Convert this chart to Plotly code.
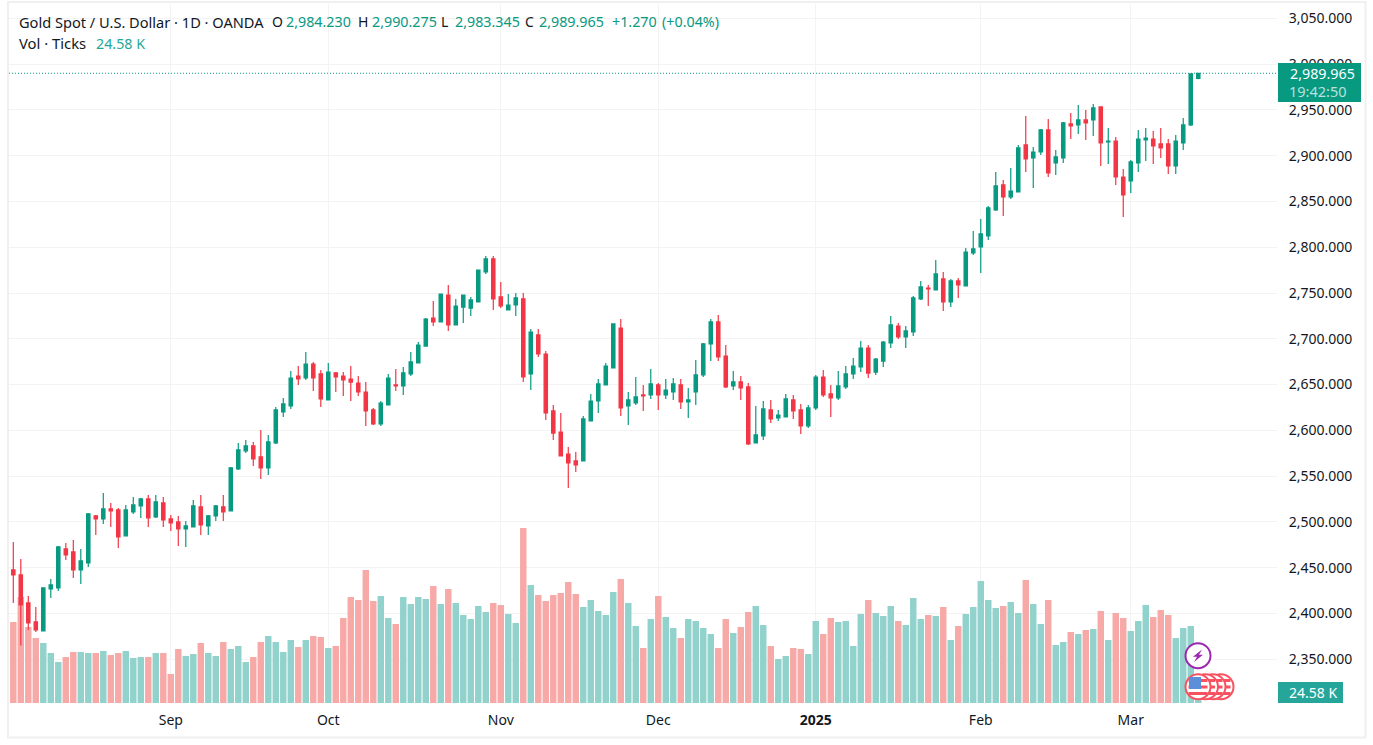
import pandas as pd
import plotly.graph_objects as go

holidays = ['2024-12-25', '2025-01-01']
dates = [d.strftime('%Y-%m-%d') for d in pd.bdate_range('2024-08-02', '2025-03-14')]
dates = [d for d in dates if d not in holidays]

open_ = [2447.6,2442.2,2411.6,2390.8,2381.0,2426.9,2428.0,2470.6,2467.3,2447.6,
         2455.3,2506.6,2503.3,2514.2,2513.1,2484.8,2511.0,2517.5,2525.2,2505.5,
         2520.8,2503.3,2500.0,2492.4,2494.6,2516.4,2495.7,2506.6,2516.4,2512.0,
         2557.9,2577.6,2583.0,2571.0,2559.0,2586.3,2620.2,2626.6,2659.4,2657.2,
         2672.5,2661.6,2633.2,2662.7,2659.4,2656.1,2651.7,2641.9,2622.3,2607.0,
         2627.7,2649.6,2648.5,2661.6,2673.6,2692.1,2722.7,2718.4,2747.8,2715.1,
         2734.7,2733.6,2740.2,2773.0,2787.2,2745.7,2731.5,2736.9,2743.5,2661.6,
         2704.2,2683.4,2621.2,2598.2,2574.2,2566.6,2566.6,2610.3,2632.1,2649.6,
         2668.1,2711.8,2626.6,2629.9,2638.7,2638.7,2649.6,2638.7,2641.9,2649.6,
         2631.0,2641.9,2660.5,2694.4,2718.4,2681.2,2648.5,2652.9,2647.4,2586.2,
         2593.9,2622.3,2613.5,2614.6,2633.2,2622.3,2604.8,2624.5,2658.3,2639.8,
         2635.4,2647.4,2661.6,2669.2,2689.9,2663.7,2675.7,2695.5,2714.0,2702.0,
         2707.5,2743.5,2755.5,2753.3,2765.4,2740.2,2763.2,2757.7,2793.7,2800.3,
         2812.3,2840.7,2868.0,2854.9,2860.4,2911.7,2897.5,2904.0,2928.1,2892.0,
         2897.5,2934.6,2933.5,2939.0,2939.0,2953.2,2915.0,2916.0,2876.7,2872.4,
         2892.0,2917.1,2918.2,2912.8,2912.8,2888.7,2913.9,2933.5,2984.23]
high = [2478.2,2459.6,2419.2,2407.2,2428.5,2437.8,2473.8,2477.1,2480.4,2470.6,
        2509.9,2507.7,2531.7,2520.8,2515.3,2518.6,2527.3,2526.2,2529.5,2529.5,
        2527.3,2507.7,2506.6,2501.1,2524.1,2529.5,2507.7,2518.6,2529.5,2560.1,
        2586.3,2589.6,2587.4,2600.5,2595.0,2625.6,2635.4,2664.8,2670.3,2685.6,
        2674.7,2665.9,2673.6,2663.7,2663.7,2670.3,2659.4,2652.8,2624.4,2632.1,
        2661.6,2667.0,2669.2,2685.6,2696.5,2722.7,2741.3,2748.9,2758.8,2743.5,
        2747.8,2745.6,2775.1,2790.4,2790.4,2762.0,2748.9,2750.0,2750.0,2710.7,
        2710.7,2686.7,2627.7,2619.0,2581.9,2576.4,2615.7,2639.8,2656.1,2673.6,
        2716.2,2721.7,2641.9,2658.3,2649.6,2667.0,2651.8,2656.1,2657.2,2656.1,
        2646.3,2676.9,2695.4,2721.7,2726.0,2693.3,2664.9,2659.4,2651.8,2626.6,
        2632.1,2633.2,2622.3,2639.8,2638.7,2628.8,2627.7,2660.5,2666.0,2649.6,
        2664.9,2670.3,2679.1,2697.6,2693.2,2679.0,2697.6,2724.9,2717.3,2714.0,
        2746.8,2763.2,2758.8,2786.1,2773.0,2765.4,2766.4,2799.2,2817.8,2830.9,
        2845.1,2882.2,2873.5,2886.6,2911.7,2943.4,2909.5,2929.2,2940.1,2906.2,
        2936.8,2946.6,2955.4,2949.9,2956.5,2953.2,2930.2,2920.4,2885.5,2895.3,
        2928.1,2930.2,2927.0,2930.2,2918.2,2922.6,2941.2,2989.5,2990.275]
low = [2411.6,2365.0,2382.1,2379.9,2380.5,2417.0,2424.7,2458.5,2438.9,2432.3,
       2450.9,2485.8,2497.8,2494.6,2471.6,2484.8,2508.8,2504.4,2494.6,2504.4,
       2494.6,2490.2,2473.8,2472.7,2494.6,2485.8,2485.8,2501.1,2501.1,2512.0,
       2556.8,2575.4,2561.2,2547.0,2551.4,2585.2,2614.7,2623.4,2649.6,2655.0,
       2643.0,2625.5,2633.2,2641.9,2637.5,2632.1,2637.5,2604.8,2605.9,2604.8,
       2627.7,2643.0,2638.6,2659.4,2673.6,2692.1,2714.0,2718.4,2708.5,2715.1,
       2717.3,2724.9,2740.2,2770.8,2731.5,2733.6,2731.5,2724.9,2652.8,2644.1,
       2680.1,2611.3,2589.5,2572.0,2537.1,2554.6,2566.6,2610.3,2619.0,2649.6,
       2668.1,2615.7,2605.9,2627.7,2621.2,2634.3,2622.3,2634.3,2633.2,2623.4,
       2613.5,2627.7,2658.3,2675.8,2675.8,2646.3,2644.1,2633.2,2584.1,2586.2,
       2589.5,2608.1,2610.3,2614.6,2612.5,2596.1,2602.6,2622.3,2636.5,2614.6,
       2633.2,2645.2,2656.1,2663.7,2657.2,2660.4,2669.2,2689.9,2699.8,2690.0,
       2703.1,2742.4,2735.9,2753.3,2730.4,2734.8,2744.6,2757.7,2791.6,2771.9,
       2807.9,2839.6,2834.1,2852.7,2860.4,2882.2,2864.7,2900.8,2876.7,2878.9,
       2892.0,2918.2,2923.7,2917.1,2921.5,2888.7,2890.9,2868.0,2833.1,2859.3,
       2882.2,2894.2,2890.9,2897.5,2880.0,2880.0,2906.2,2932.5,2983.345]
close = [2442.2,2409.4,2389.7,2382.1,2428.0,2431.2,2472.7,2464.0,2447.6,2457.4,
         2508.8,2503.3,2514.2,2512.0,2483.7,2513.1,2518.6,2525.2,2504.4,2521.9,
         2502.2,2498.9,2492.4,2495.7,2517.5,2496.8,2506.6,2517.5,2511.0,2559.0,
         2578.7,2583.0,2568.8,2559.0,2587.4,2622.3,2628.9,2657.2,2656.1,2672.5,
         2657.2,2634.3,2663.7,2658.3,2655.0,2652.8,2641.9,2621.2,2607.0,2629.9,
         2657.2,2648.5,2662.7,2674.7,2693.2,2721.6,2718.4,2748.9,2715.1,2735.8,
         2747.8,2742.4,2775.1,2787.2,2743.5,2735.8,2736.9,2744.6,2658.3,2707.4,
         2683.4,2619.0,2597.1,2572.0,2564.4,2562.2,2612.5,2632.1,2650.7,2670.3,
         2716.2,2624.5,2633.2,2636.5,2637.6,2650.7,2638.7,2644.1,2650.7,2631.0,
         2633.2,2660.5,2694.4,2718.4,2680.2,2647.4,2652.9,2646.3,2585.2,2595.0,
         2623.4,2612.5,2616.8,2634.3,2621.2,2604.8,2624.5,2658.3,2638.7,2635.4,
         2648.5,2661.6,2670.3,2689.9,2662.6,2677.9,2696.5,2715.1,2702.0,2708.6,
         2744.6,2756.6,2754.4,2770.8,2740.2,2763.2,2758.8,2794.8,2798.1,2814.5,
         2842.9,2866.9,2854.9,2861.4,2908.4,2896.4,2904.0,2928.1,2881.1,2898.6,
         2935.7,2932.4,2939.0,2935.7,2952.1,2913.9,2916.0,2876.7,2857.1,2893.1,
         2918.2,2919.3,2910.6,2908.4,2888.7,2916.0,2933.5,2989.2,2989.965]
volume = [181,236.9,169.9,145.3,134.1,111.8,91.6,102.8,114,114,
          111.8,111.8,116.2,107.3,111.8,116.2,100.6,102.8,102.8,111.8,
          111.8,64.8,120.7,105,109.5,134.1,111.8,105,136.3,120.7,
          127.4,91.6,102.8,136.3,149.7,136.3,114,140.8,125.2,140.8,
          149.7,147.5,122.9,127.4,190,236.9,230.2,297.3,228,239.1,
          190,176.6,236.9,221.3,236.9,232.4,261.5,221.3,254.8,223.5,
          196.7,187.7,216.8,203.4,223.5,219,198.9,178.8,391.1,263.7,
          241.4,228,241.4,245.9,270.4,243.6,214.6,230.2,205.6,196.7,
          248.1,277.1,223.5,172.1,122.9,187.7,239.1,192.2,167.6,145.3,
          187.7,183.3,167.6,154.2,122.9,187.7,156.5,169.9,203.4,216.8,
          174.3,127.4,98.3,105,122.9,120.7,109.5,183.3,154.2,190,
          181,183.3,127.4,198.9,230.2,201.2,194.4,216.8,183.3,174.3,
          234.7,187.7,196.7,194.4,214.6,140.8,172.1,198.9,214.6,272.7,
          230.2,212.3,216.8,225.7,201.2,274.9,221.3,176.6,230.2,129.6,
          136.3,158.7,154.2,163.2,165.4,205.6,140.8,201.2,190,160.9,
          183.3,219,192.2,207.9,196.7,145.3,167.6,172.1,24.58]

x_tick_dates = ['2024-09-02', '2024-10-01', '2024-11-01', '2024-12-02', '2025-01-02', '2025-02-03', '2025-03-03']
x_tick_labels = ['Sep', 'Oct', 'Nov', 'Dec', '<b>2025</b>', 'Feb', 'Mar']
price_ticks = list(range(2350, 3051, 50))

GREEN = '#089981'
RED = '#f23645'
GRID = '#f3f3f3'
TEXT = '#131722'
FONT = 'Noto Sans'

# pixel position of the pane inside the 1373x745 page
L, R, T, B = 9, 1277, 4, 703


def px(x):
    return (x - L) / (R - L)


def py(y):
    return (B - y) / (B - T)


vol_colors = ['#92d2cc' if c >= o else '#f7a9a7' for o, c in zip(open_, close)]

fig = go.Figure()
fig.add_trace(go.Bar(x=dates, y=volume, marker=dict(color=vol_colors, line_width=0), yaxis='y', hoverinfo='skip'))
fig.add_trace(go.Candlestick(
    x=dates, open=open_, high=high, low=low, close=close, yaxis='y2',
    increasing=dict(line=dict(color=GREEN, width=1.2), fillcolor=GREEN),
    decreasing=dict(line=dict(color=RED, width=1.2), fillcolor=RED),
    whiskerwidth=0,
))


def label(x, y, text, color=TEXT, size=14, anchor='left'):
    # annotations sit 2px right of their anchor because of the border padding
    shift = -2 if anchor == 'left' else 0
    fig.add_annotation(xref='paper', yref='paper', x=px(x), y=py(y), text=text, showarrow=False,
                       xanchor=anchor, yanchor='middle', xshift=shift, align='left',
                       font=dict(family=FONT, size=size, color=color))


def rect(x0, y0, x1, y1, color):
    fig.add_shape(type='rect', xref='paper', yref='paper', x0=px(x0), x1=px(x1), y0=py(y0), y1=py(y1),
                  fillcolor=color, line_width=0, layer='above')


def circle(cx, cy, r, line_color, line_width):
    fig.add_shape(type='circle', xref='paper', yref='paper', x0=px(cx - r), x1=px(cx + r), y0=py(cy - r), y1=py(cy + r),
                  fillcolor='white', line=dict(color=line_color, width=line_width), layer='above')


# last price line and frame
fig.add_shape(type='line', xref='paper', yref='y2', x0=0, x1=1, y0=close[-1], y1=close[-1],
              line=dict(color=GREEN, width=1, dash='1px,2px'), layer='above')
fig.add_shape(type='rect', xref='paper', yref='paper', x0=px(8), x1=px(1365.5), y0=py(2), y1=py(737.5),
              line=dict(color='#f0f0f0', width=2), layer='above')

# header
label(19, 22, 'Gold Spot / U.S. Dollar · 1D · OANDA', size=14.6)
for x, head, val in [(272, 'O', '2,984.230'), (358, 'H', '2,990.275'), (441, 'L', '2,983.345'), (525, 'C', '2,989.965')]:
    label(x, 22, head)
    label(x + 14, 22, val, GREEN, size=14.3)
label(612, 22, '+1.270', GREEN, size=14.3)
label(662, 22, '(+0.04%)', GREEN, size=14.3)
label(19, 43, 'Vol · Ticks', size=14.8)
label(96, 43, '24.58 K', '#26a69a', size=14.3)

# price and volume tags on the right
rect(1278, 63, 1361, 102, GREEN)
label(1322.5, 73, '2,989.965', 'white', size=14.3, anchor='center')
label(1318, 91, '19:42:50', 'rgba(255,255,255,0.72)', size=14.5, anchor='center')
rect(1278, 682, 1343, 703, '#26a69a')
label(1313, 692.5, '24.58 K', 'white', anchor='center')

# event icons
circle(1198, 655.7, 12.5, '#9c27b0', 2)
bolt = [(1202, 649.5), (1193, 656.7), (1197, 656.7), (1194, 662), (1203, 654.7), (1199, 654.7)]
fig.add_shape(type='path', xref='paper', yref='paper', layer='above', fillcolor='#9c27b0', line_width=0,
              path='M ' + ' L '.join(f'{px(a)},{py(b)}' for a, b in bolt) + ' Z')
for cx in [1221, 1213, 1205.5, 1198]:
    circle(cx, 686.7, 12.5, '#f7525f', 2)
    for sy in [679, 685.5, 692]:
        rect(cx + 3 if cx != 1198 else cx - 9.5, sy, cx + 9.5, sy + 3, '#f7525f')
rect(1189, 677, 1201, 689, '#5b8fd9')

fig.update_layout(
    width=1373, height=745,
    margin=dict(l=L, r=1373 - R, t=T, b=745 - B, pad=0),
    paper_bgcolor='white', plot_bgcolor='white',
    showlegend=False, bargap=0.14, boxgap=0.36,
    font=dict(family=FONT, size=14, color=TEXT),
    xaxis=dict(
        type='category', range=[-0.573, 168.5], rangeslider_visible=False,
        categoryorder='array', categoryarray=dates,
        tickmode='array', tickvals=x_tick_dates, ticktext=x_tick_labels, tickangle=0,
        showgrid=True, gridcolor=GRID, gridwidth=1, zeroline=False, showline=False,
        ticks='outside', ticklen=4, tickcolor='white',
    ),
    yaxis=dict(range=[0, 1562.3], visible=False, fixedrange=True),
    yaxis2=dict(
        overlaying='y', side='right', range=[2302.3, 3065.6],
        tickmode='array', tickvals=price_ticks, tickformat=',.3f',
        showgrid=True, gridcolor=GRID, gridwidth=1, zeroline=False, showline=False,
        ticks='outside', ticklen=8, tickcolor='white',
    ),
)

fig.write_html('out.html', config={'displayModeBar': False},
               post_script="document.body.style.margin='0';document.body.style.overflow='hidden';")
